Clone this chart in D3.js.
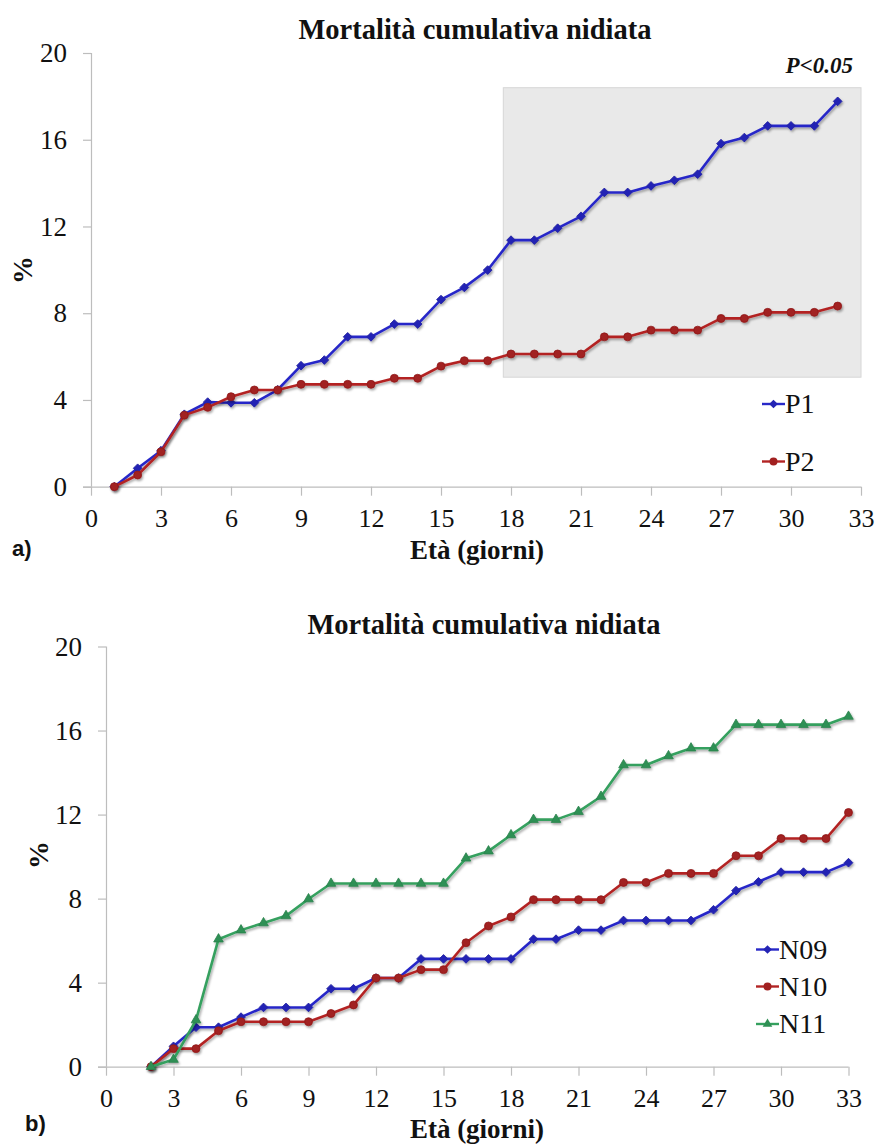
<!DOCTYPE html>
<html>
<head>
<meta charset="utf-8">
<script src="https://cdn.jsdelivr.net/npm/d3@7"></script>
</head>
<body style="margin:0">
<svg id="chart" width="878" height="1144" font-family="Liberation Serif" style="font-family:'Liberation Serif'"></svg>
<script>
// ---- Panel a): cumulative brood mortality by parent group ----
const agesA = [1, 2, 3, 4, 5, 6, 7, 8, 9, 10, 11, 12, 13, 14, 15, 16, 17, 18, 19, 20, 21, 22, 23, 24, 25, 26, 27, 28, 29, 30, 31, 32];
const seriesP1 = [0, 0.85, 1.66, 3.34, 3.9, 3.87, 3.87, 4.47, 5.58, 5.84, 6.91, 6.91, 7.5, 7.5, 8.63, 9.19, 9.99, 11.37, 11.37, 11.92, 12.47, 13.57, 13.57, 13.87, 14.13, 14.41, 15.82, 16.1, 16.64, 16.64, 16.64, 17.77];
const seriesP2 = [0, 0.54, 1.61, 3.3, 3.66, 4.15, 4.46, 4.46, 4.72, 4.72, 4.72, 4.72, 5.0, 5.0, 5.56, 5.81, 5.81, 6.12, 6.12, 6.12, 6.12, 6.91, 6.91, 7.22, 7.22, 7.22, 7.76, 7.76, 8.04, 8.04, 8.04, 8.33];
// age / percentage span of the significant-difference band
const bandAge = [17.67, 33];
const bandPct = [5.05, 18.4];

// ---- Panel b): cumulative brood mortality by year ----
const agesB = [2, 3, 4, 5, 6, 7, 8, 9, 10, 11, 12, 13, 14, 15, 16, 17, 18, 19, 20, 21, 22, 23, 24, 25, 26, 27, 28, 29, 30, 31, 32, 33];
const seriesN09 = [0, 0.97, 1.88, 1.88, 2.36, 2.82, 2.82, 2.82, 3.71, 3.71, 4.22, 4.22, 5.13, 5.13, 5.13, 5.13, 5.13, 6.07, 6.07, 6.5, 6.5, 6.96, 6.96, 6.96, 6.96, 7.47, 8.38, 8.8, 9.26, 9.26, 9.26, 9.71];
const seriesN10 = [0, 0.86, 0.86, 1.71, 2.14, 2.14, 2.14, 2.14, 2.53, 2.94, 4.22, 4.22, 4.62, 4.62, 5.9, 6.7, 7.13, 7.95, 7.95, 7.95, 7.95, 8.77, 8.77, 9.2, 9.2, 9.2, 10.04, 10.04, 10.86, 10.86, 10.86, 12.1];
const seriesN11 = [0, 0.34, 2.22, 6.07, 6.5, 6.84, 7.18, 7.98, 8.72, 8.72, 8.72, 8.72, 8.72, 8.72, 9.92, 10.26, 11.03, 11.76, 11.76, 12.14, 12.86, 14.36, 14.36, 14.79, 15.16, 15.16, 16.28, 16.28, 16.28, 16.28, 16.28, 16.67];

const xTicks = [0, 3, 6, 9, 12, 15, 18, 21, 24, 27, 30, 33];
const yTicks = [0, 4, 8, 12, 16, 20];
const titleText = "Mortalità cumulativa nidiata";
const xTitleText = "Età (giorni)";
const yTitleText = "%";

const COLORS = { blue: "#2828c8", red: "#b32424", green: "#34a05e" };

const svg = d3.select("#chart");
const defs = svg.append("defs");
const shadow = defs.append("filter").attr("id", "shadow")
  .attr("x", "-10%").attr("y", "-10%").attr("width", "130%").attr("height", "130%");
shadow.append("feDropShadow").attr("dx", 1.2).attr("dy", 1.8)
  .attr("stdDeviation", 1.2).attr("flood-color", "#000").attr("flood-opacity", 0.35);

const symbolFor = {
  diamond: d3.symbol().type(d3.symbolSquare).size(38),
  circle: d3.symbol().type(d3.symbolCircle).size(50),
  triangle: d3.symbol().type(d3.symbolTriangle).size(40)
};

// all chart text is set in a Times-style serif
function serifText(sel, size, weight) {
  return sel
    .attr("font-family", "Liberation Serif")
    .style("font-family", () => '"Liberation Serif"')
    .style("font-size", () => size + "px")
    .style("font-weight", () => weight || "normal")
    .style("fill", "#111");
}

function drawPanel(cfg) {
  const g = svg.append("g");
  const x = d3.scaleLinear().domain([0, 33]).range([cfg.left, cfg.right]);
  const y = d3.scaleLinear().domain([0, 20]).range([cfg.bottom, cfg.top]);

  if (cfg.band) {
    g.append("rect")
      .attr("x", x(cfg.band.age[0])).attr("width", x(cfg.band.age[1]) - x(cfg.band.age[0]))
      .attr("y", y(cfg.band.pct[1])).attr("height", y(cfg.band.pct[0]) - y(cfg.band.pct[1]))
      .attr("fill", "#e9e9e9").attr("stroke", "#d6d6d6").attr("stroke-width", 1);
  }

  // axes
  const xAxis = g.append("g").attr("transform", `translate(0,${cfg.bottom})`)
    .call(d3.axisBottom(x).tickValues(xTicks).tickSize(9).tickPadding(13).tickFormat(d3.format("d")));
  const yAxis = g.append("g").attr("transform", `translate(${cfg.left},0)`)
    .call(d3.axisLeft(y).tickValues(yTicks).tickSize(8).tickPadding(16).tickFormat(d3.format("d")));
  [xAxis, yAxis].forEach(a => {
    a.attr("font-family", "Liberation Serif").attr("font-size", 27);
    a.select(".domain").attr("stroke", "#bdbdbd").attr("stroke-width", 1.2);
    a.selectAll(".tick line").attr("stroke", "#bdbdbd").attr("stroke-width", 1.2);
  });
  serifText(xAxis.selectAll(".tick text"), 26);
  serifText(yAxis.selectAll(".tick text"), 27);
  xAxis.select(".domain").attr("d", `M${cfg.left - 8},0.5H${cfg.right}`);
  yAxis.select(".domain").attr("d", `M0.5,${cfg.top}V${cfg.bottom}`);

  // series
  const line = d3.line().x(d => x(d[0])).y(d => y(d[1]));
  cfg.series.forEach(s => {
    const pts = s.ages.map((a, i) => [a, s.values[i]]);
    const sg = g.append("g").attr("filter", "url(#shadow)");
    sg.append("path").datum(pts).attr("d", line)
      .attr("fill", "none").attr("stroke", s.color).attr("stroke-width", 2.6).attr("stroke-linejoin", "round");
    sg.selectAll("path.mk").data(pts).join("path").attr("class", "mk")
      .attr("d", symbolFor[s.marker])
      .attr("transform", d => `translate(${x(d[0])},${y(d[1])})` + (s.marker === "diamond" ? " rotate(45)" : ""))
      .attr("fill", d3.color(s.color).darker(0.3)).attr("stroke", d3.color(s.color).darker(0.6)).attr("stroke-width", 0.8);
  });

  // legend
  cfg.series.forEach((s, i) => {
    const ly = cfg.legend.y[i];
    const lg = g.append("g");
    lg.append("line").attr("x1", cfg.legend.x).attr("x2", cfg.legend.x + 23)
      .attr("y1", ly).attr("y2", ly).attr("stroke", s.color).attr("stroke-width", 2.4);
    lg.append("path").attr("d", symbolFor[s.marker])
      .attr("transform", `translate(${cfg.legend.x + 11.5},${ly})` + (s.marker === "diamond" ? " rotate(45)" : ""))
      .attr("fill", d3.color(s.color).darker(0.3));
    serifText(lg.append("text").attr("x", cfg.legend.x + 23).attr("y", ly + 9), 28).text(s.name);
  });

  // titles
  serifText(g.append("text").attr("x", cfg.titleX).attr("y", cfg.titleY).attr("text-anchor", "middle"), 28.5, "bold")
    .text(titleText);
  serifText(g.append("text").attr("x", cfg.xTitleX).attr("y", cfg.xTitleY).attr("text-anchor", "middle"), 27, "bold")
    .text(xTitleText);
  serifText(g.append("text").attr("transform", `translate(${cfg.yTitle[0]},${cfg.yTitle[1]}) rotate(-90)`)
    .attr("text-anchor", "middle"), 28, "bold").text(yTitleText);
  g.append("text").attr("x", cfg.tag[0]).attr("y", cfg.tag[1])
    .attr("font-family", "Liberation Sans")
    .style("font-family", () => '"Liberation Sans"').style("font-weight", "bold")
    .style("font-size", "22px").style("fill", "#111")
    .text(cfg.tagText);

  return { g, x, y };
}

const panelA = drawPanel({
  left: 91, right: 861, top: 53, bottom: 486.7,
  band: { age: bandAge, pct: bandPct },
  series: [
    { name: "P1", ages: agesA, values: seriesP1, color: COLORS.blue, marker: "diamond" },
    { name: "P2", ages: agesA, values: seriesP2, color: COLORS.red, marker: "circle" }
  ],
  legend: { x: 762, y: [404, 461.5] },
  titleX: 475, titleY: 39,
  xTitleX: 477, xTitleY: 559,
  yTitle: [32, 270],
  tag: [12, 556], tagText: "a)"
});
serifText(panelA.g.append("text").attr("x", 853).attr("y", 73).attr("text-anchor", "end"), 23, "bold")
  .style("font-style", "italic").text("P<0.05");

drawPanel({
  left: 106, right: 848.5, top: 646.5, bottom: 1066.7,
  series: [
    { name: "N09", ages: agesB, values: seriesN09, color: COLORS.blue, marker: "diamond" },
    { name: "N10", ages: agesB, values: seriesN10, color: COLORS.red, marker: "circle" },
    { name: "N11", ages: agesB, values: seriesN11, color: COLORS.green, marker: "triangle" }
  ],
  legend: { x: 756, y: [949.5, 986.5, 1024] },
  titleX: 484, titleY: 634,
  xTitleX: 477, xTitleY: 1138,
  yTitle: [48, 855],
  tag: [25, 1131], tagText: "b)"
});
</script>
</body>
</html>
